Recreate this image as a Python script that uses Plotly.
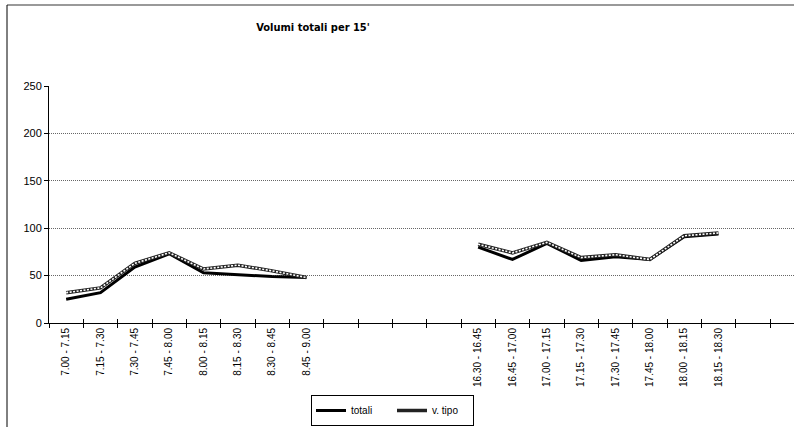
import plotly.graph_objects as go

categories = ["7.00 - 7.15", "7.15 - 7.30", "7.30 - 7.45", "7.45 - 8.00",
              "8.00 - 8.15", "8.15 - 8.30", "8.30 - 8.45", "8.45 - 9.00",
              "", "", "", "",
              "16.30 - 16.45", "16.45 - 17.00", "17.00 - 17.15", "17.15 - 17.30",
              "17.30 - 17.45", "17.45 - 18.00", "18.00 - 18.15", "18.15 - 18.30"]
totali = [25, 32, 59, 73, 53, 51, 49, 48,
          None, None, None, None,
          80, 67, 84, 66, 70, 67, 91, 94]
v_tipo = [32, 37, 63, 74, 57, 61, 55, 48,
          None, None, None, None,
          83, 74, 85, 69, 72, 67, 92, 95]
y_ticks = [0, 50, 100, 150, 200, 250]

x = list(range(len(categories)))

W, H = 794, 427
L, T, B = 49, 86, 104
cat_w = 721 / 21.0
span = (W - L) / cat_w

fig = go.Figure()
fig.add_trace(go.Scatter(x=x, y=totali, mode="lines", name="totali",
                         line=dict(color="black", width=3), connectgaps=False))
fig.add_trace(go.Scatter(x=x, y=v_tipo, mode="lines", name="v. tipo",
                         line=dict(color="#222222", width=3.5), connectgaps=False,
                         legendgroup="vt"))
fig.add_trace(go.Scatter(x=x, y=v_tipo, mode="lines", name="v. tipo",
                         line=dict(color="white", width=1.6, dash="2px,1.5px"), connectgaps=False,
                         legendgroup="vt", showlegend=False, hoverinfo="skip"))
# invisible trace on the overlay axis to hold inside ticks
fig.add_trace(go.Scatter(x=[0], y=[0], xaxis="x2", mode="markers",
                         marker=dict(opacity=0), showlegend=False, hoverinfo="skip"))

xrange = [-0.5, -0.5 + span]
fig.update_layout(
    width=W, height=H,
    margin=dict(l=L, r=0, t=T, b=B, autoexpand=False),
    paper_bgcolor="white", plot_bgcolor="white",
    title=dict(text="<b>Volumi totali per 15'</b>", x=313 / W, xref="container",
               xanchor="center", y=1 - 27 / H, yref="container", yanchor="middle",
               font=dict(family="Liberation Sans Narrow, DejaVu Sans Condensed, sans-serif",
                         size=11, color="black")),
    xaxis=dict(range=xrange, tickmode="array", tickvals=x, ticktext=categories,
               tickangle=-90, ticks="", showgrid=False, zeroline=False,
               showline=True, linecolor="black", linewidth=1,
               tickfont=dict(family="Liberation Sans, Arial, sans-serif", size=10, color="black"),
               minor=dict(tickmode="linear", tick0=-0.5, dtick=1, ticks="outside",
                          ticklen=4, tickcolor="black", tickwidth=1, showgrid=False)),
    xaxis2=dict(range=xrange, overlaying="x", anchor="y", side="bottom",
                showticklabels=False, showgrid=False, zeroline=False, showline=False,
                tickmode="linear", tick0=-0.5, dtick=1, ticks="inside",
                ticklen=4, tickcolor="black", tickwidth=1),
    yaxis=dict(range=[0, 250], tickvals=y_ticks, ticks="outside", ticklen=4,
               tickcolor="black", showline=True, linecolor="black", linewidth=1,
               showgrid=True, gridcolor="#666666", griddash="1px,1px", gridwidth=1,
               zeroline=False,
               tickfont=dict(family="Liberation Sans, Arial, sans-serif", size=11, color="black")),
    legend=dict(orientation="h", x=(311 - L) / (W - L), xanchor="left",
                y=(323 - 395) / (H - T - B), yanchor="top",
                bordercolor="black", borderwidth=1, bgcolor="white",
                font=dict(family="Liberation Sans, Arial, sans-serif", size=10, color="black"),
                itemwidth=30, entrywidth=36, tracegroupgap=0),
    showlegend=True,
)

ph = H - T - B
pw = W - L
fx = (7 - L) / pw
fy = (323 - 5) / ph
fig.add_shape(type="line", xref="paper", yref="paper", x0=fx, x1=1.05, y0=fy, y1=fy,
              line=dict(color="#777777", width=1.5))
fig.add_shape(type="line", xref="paper", yref="paper", x0=fx, x1=fx, y0=fy, y1=-0.6,
              line=dict(color="black", width=1))

fig.write_html("out.html", config={"displayModeBar": False},
               post_script="document.body.style.margin='0';document.body.style.overflow='hidden';")
